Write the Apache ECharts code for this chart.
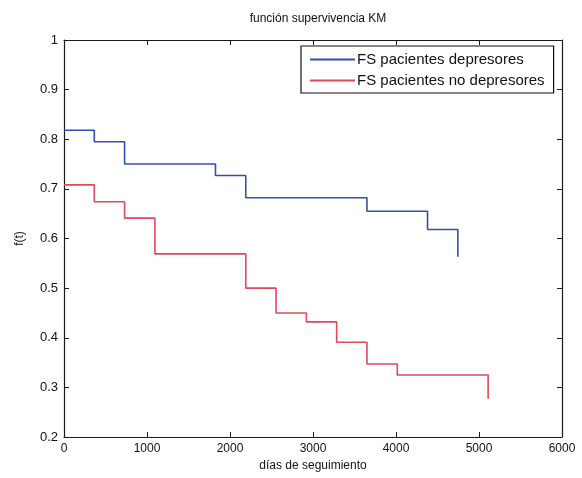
<!DOCTYPE html>
<html><head><meta charset="utf-8">
<script src="https://cdn.jsdelivr.net/npm/echarts@6/dist/echarts.min.js"></script>
<style>html,body{margin:0;padding:0;background:#fff}#c{width:582px;height:478px}</style>
</head><body><div id="c"></div>
<script>
const seriesNames = ['FS pacientes depresores', 'FS pacientes no depresores'];
const timesDep = [0, 365, 730, 1825, 2190, 3650, 4380, 4745];
const survDep = [0.818, 0.795, 0.750, 0.727, 0.682, 0.655, 0.618, 0.563];
const timesNoDep = [0, 365, 730, 1095, 2190, 2555, 2920, 3285, 3650, 4015, 5110];
const survNoDep = [0.708, 0.674, 0.641, 0.569, 0.500, 0.450, 0.432, 0.391, 0.347, 0.325, 0.277];
const titleText = 'función supervivencia KM';
const xLabel = 'días de seguimiento';
const yLabel = 'f(t)';

const font = 'Liberation Sans, Arial, sans-serif';
const axisCol = '#1a1a1a';
const chart = echarts.init(document.getElementById('c'));
const mk = (t, s) => t.map((x, i) => [x, s[i]]);
const fmtY = v => String(+v.toFixed(1));
const fmtX = v => String(Math.round(v));
chart.setOption({
  animation: false,
  title: {text: titleText, left: 313, top: 8, textAlign: 'center',
    textStyle: {fontFamily: font, fontSize: 12, fontWeight: 'normal', color: '#111'}},
  grid: {left: 64, right: 20, top: 40, bottom: 41, containLabel: false},
  legend: {
    orient: 'vertical', left: 301, top: 46,
    data: seriesNames.map(n => ({name: n, icon: 'rect'})),
    itemWidth: 45, itemHeight: 2, itemGap: 6,
    borderColor: '#111', borderWidth: 1.2, padding: [6, 9, 5, 9],
    textStyle: {fontFamily: font, fontSize: 15, color: '#111', padding: [0, 0, 0, -3]}
  },
  xAxis: [{
    type: 'value', min: 0, max: 6000, interval: 1000, position: 'bottom',
    name: xLabel, nameLocation: 'middle', nameGap: 22,
    nameTextStyle: {fontFamily: font, fontSize: 12, color: '#111'},
    axisLine: {show: true, onZero: false, lineStyle: {color: axisCol, width: 1.2}},
    axisTick: {show: true, inside: true, length: 5, lineStyle: {color: axisCol}},
    axisLabel: {fontFamily: font, fontSize: 12, color: '#111', margin: 6, formatter: fmtX},
    splitLine: {show: false}
  }, {
    type: 'value', min: 0, max: 6000, interval: 1000, position: 'top',
    axisLine: {show: true, onZero: false, lineStyle: {color: axisCol, width: 1.2}},
    axisTick: {show: true, inside: true, length: 5, lineStyle: {color: axisCol}},
    axisLabel: {show: false}, splitLine: {show: false}
  }],
  yAxis: [{
    type: 'value', min: 0.2, max: 1, interval: 0.1, position: 'left',
    name: yLabel, nameLocation: 'middle', nameGap: 38, nameRotate: 90,
    nameTextStyle: {fontFamily: font, fontSize: 12, color: '#111'},
    axisLine: {show: true, onZero: false, lineStyle: {color: axisCol, width: 1.2}},
    axisTick: {show: true, inside: true, length: 5, lineStyle: {color: axisCol}},
    axisLabel: {fontFamily: font, fontSize: 13, color: '#111', margin: 6, formatter: fmtY},
    splitLine: {show: false}
  }, {
    type: 'value', min: 0.2, max: 1, interval: 0.1, position: 'right',
    axisLine: {show: true, onZero: false, lineStyle: {color: axisCol, width: 1.2}},
    axisTick: {show: true, inside: true, length: 5, lineStyle: {color: axisCol}},
    axisLabel: {show: false}, splitLine: {show: false}
  }],
  series: [{
    name: seriesNames[0], type: 'line', step: 'end', symbol: 'none', showSymbol: false,
    data: mk(timesDep, survDep), color: '#2f52a8',
    lineStyle: {color: '#2f52a8', width: 1.6}
  }, {
    name: seriesNames[1], type: 'line', step: 'end', symbol: 'none', showSymbol: false,
    data: mk(timesNoDep, survNoDep), color: '#e04a58',
    lineStyle: {color: '#e04a58', width: 1.6}
  }]
});
</script></body></html>
